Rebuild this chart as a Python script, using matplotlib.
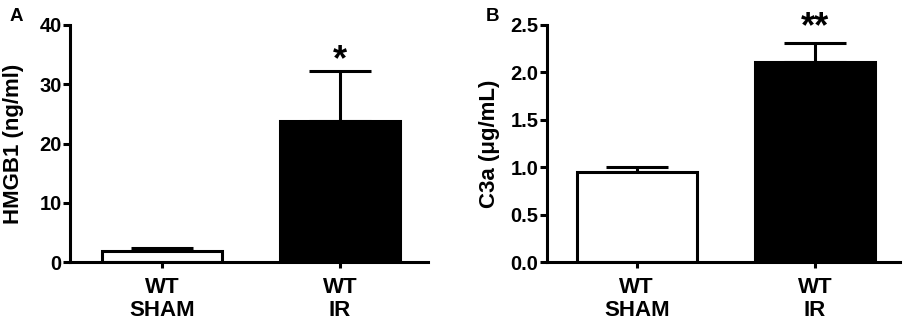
import matplotlib
matplotlib.use("Agg")
import matplotlib.pyplot as plt
from matplotlib.ticker import FormatStrFormatter

plt.rcParams['font.family'] = ['Liberation Sans', 'DejaVu Sans']
plt.rcParams['font.weight'] = 'bold'

categories = ["WT\nSHAM", "WT\nIR"]
hmgb1_mean = [1.9, 23.8]
hmgb1_err = [0.5, 8.5]
c3a_mean = [0.95, 2.11]
c3a_err = [0.055, 0.20]
hmgb1_ticks = [0, 10, 20, 30, 40]
c3a_ticks = [0.0, 0.5, 1.0, 1.5, 2.0, 2.5]
hmgb1_sig = ["", "*"]
c3a_sig = ["", "**"]
bar_colors = ["white", "black"]

W, H = 909, 325
fig = plt.figure(figsize=(W / 100, H / 100), dpi=100)

LW = 2.2

def panel(rect, means, errs, ticks, ylim, xlim, ylabel, letter, letter_xy, sig, sig_y, ylab_x, fmt=None):
    ax = fig.add_axes(rect)
    x = list(range(len(means)))
    ax.bar(x, means, width=0.674, color=bar_colors, edgecolor="black", linewidth=LW, zorder=2)
    ax.errorbar(x, means, yerr=[[0] * len(errs), errs], fmt="none", ecolor="black",
                elinewidth=LW, capsize=22, capthick=LW, zorder=1)
    ax.set_xlim(*xlim)
    ax.set_ylim(*ylim)
    ax.set_yticks(ticks)
    if fmt:
        ax.yaxis.set_major_formatter(FormatStrFormatter(fmt))
    ax.set_xticks(x)
    ax.set_xticklabels(categories, fontsize=16, fontweight="bold", linespacing=1.15)
    for lab in ax.get_yticklabels():
        lab.set_fontsize(14.5)
        lab.set_fontweight("bold")
    ax.spines["top"].set_visible(False)
    ax.spines["right"].set_visible(False)
    ax.spines["left"].set_linewidth(LW)
    ax.spines["bottom"].set_linewidth(LW)
    ax.tick_params(axis="y", length=5, width=LW, pad=1)
    ax.tick_params(axis="x", length=4.5, width=LW, pad=6)
    ax.set_ylabel(ylabel, fontsize=16, fontweight="bold")
    ax.yaxis.set_label_coords(ylab_x, 0.5)
    for xi, s, m, e in zip(x, sig, means, errs):
        if s:
            ax.text(xi, m + e + sig_y, s, ha="center", va="bottom", fontsize=26, fontweight="bold")
    fig.text(letter_xy[0], letter_xy[1], letter, fontsize=13.5, fontweight="bold", ha="left", va="top")
    return ax

axA = panel([70 / W, 1 - 262 / H, (428 - 70) / W, 237 / H], hmgb1_mean, hmgb1_err, hmgb1_ticks,
            (0, 40), (-0.517, 1.494), "HMGB1 (ng/ml)", "A", (10 / W, 1 - 8 / H), hmgb1_sig, -1.2,
            -0.128)
axB = panel([546.7 / W, 1 - 262 / H, (900 - 546.7) / W, 237 / H], c3a_mean, c3a_err, c3a_ticks,
            (0, 2.5), (-0.505, 1.477), "C3a (\u03bcg/mL)", "B", (486 / W, 1 - 8 / H), c3a_sig, -0.02,
            -0.133, fmt="%.1f")

fig.savefig("out.png", dpi=100)
